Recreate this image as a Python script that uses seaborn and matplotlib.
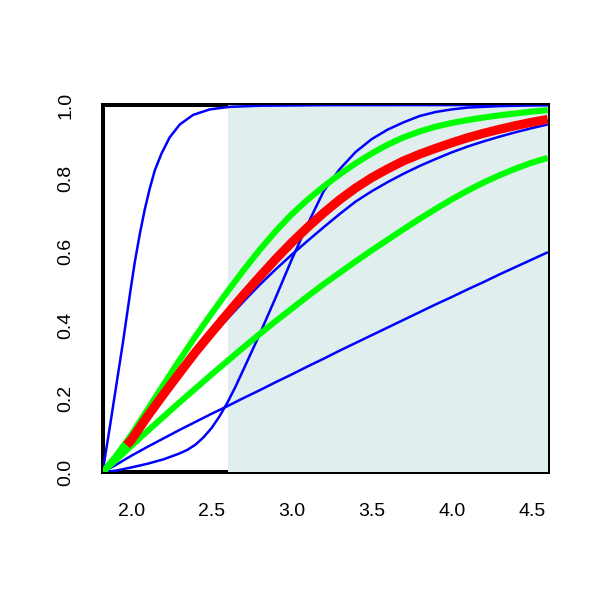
import matplotlib
matplotlib.use("Agg")
import matplotlib.pyplot as plt
from matplotlib.patches import Rectangle
import seaborn as sns

# curves (x positions where values were read)
grid_x = [1.82, 1.9, 2.0, 2.1, 2.2, 2.3, 2.4, 2.5, 2.6, 2.7, 2.8, 2.9, 3.0, 3.1, 3.2,
          3.3, 3.4, 3.5, 3.6, 3.7, 3.8, 3.9, 4.0, 4.1, 4.2, 4.3, 4.4, 4.5, 4.6]

# steep blue curve, read at its own positions
b1_x = [1.82, 1.864, 1.906, 1.948, 1.994, 2.021, 2.052, 2.083, 2.114, 2.146, 2.188,
        2.239, 2.302, 2.385, 2.489, 2.614, 2.8, 3.2, 4.6]
b1_y = [0.0, 0.12, 0.238, 0.356, 0.495, 0.572, 0.648, 0.715, 0.772, 0.822, 0.868,
        0.912, 0.947, 0.973, 0.988, 0.995, 0.998, 0.9995, 1.0]

# s-shaped blue curve, read a little closer where it bends
b2_x = [1.82, 1.9, 2.0, 2.1, 2.2, 2.3, 2.35, 2.4, 2.45, 2.5, 2.55, 2.6, 2.65, 2.7, 2.8,
        2.9, 3.0, 3.1, 3.2, 3.3, 3.4, 3.5, 3.6, 3.7, 3.8, 3.9, 4.0, 4.1, 4.2, 4.3, 4.4,
        4.5, 4.6]
b2_y = [0.0, 0.004, 0.013, 0.023, 0.035, 0.051, 0.061, 0.075, 0.095, 0.12, 0.152, 0.19,
        0.233, 0.28, 0.375, 0.475, 0.578, 0.675, 0.765, 0.825, 0.872, 0.907, 0.933,
        0.953, 0.970, 0.981, 0.988, 0.993, 0.995, 0.997, 0.998, 0.999, 0.9995]

# blue curve running under the red one (starts at 2.0)
b3_y = [None, None, 0.088, 0.152, 0.213, 0.268, 0.32, 0.37, 0.418, 0.465, 0.51, 0.552,
        0.592, 0.63, 0.667, 0.703, 0.737, 0.765, 0.79, 0.813, 0.834, 0.853, 0.871,
        0.887, 0.901, 0.914, 0.926, 0.937, 0.947]

# nearly straight blue curve
b4_y = [0.0, 0.019, 0.045, 0.069, 0.092, 0.115, 0.137, 0.159, 0.18, 0.202, 0.223, 0.245,
        0.266, 0.288, 0.309, 0.331, 0.352, 0.373, 0.394, 0.415, 0.436, 0.457, 0.477,
        0.498, 0.518, 0.539, 0.559, 0.579, 0.599]

# upper and lower green curves
g1_y = [0.0, 0.042, 0.102, 0.17, 0.238, 0.305, 0.37, 0.432, 0.492, 0.55, 0.605, 0.656,
        0.702, 0.742, 0.778, 0.811, 0.841, 0.868, 0.892, 0.912, 0.928, 0.941, 0.951,
        0.959, 0.966, 0.972, 0.977, 0.982, 0.986]
g2_y = [0.0, 0.032, 0.072, 0.112, 0.151, 0.19, 0.228, 0.266, 0.303, 0.34, 0.376, 0.411,
        0.445, 0.479, 0.512, 0.543, 0.574, 0.604, 0.633, 0.662, 0.69, 0.717, 0.743,
        0.767, 0.789, 0.809, 0.827, 0.843, 0.856]

# thick red curve (starts at 1.97)
red_x = [1.97] + grid_x[2:]
red_y = [0.074, 0.088, 0.152, 0.212, 0.27, 0.327, 0.38, 0.432, 0.483, 0.532, 0.58,
         0.625, 0.667, 0.706, 0.742, 0.774, 0.802, 0.826, 0.848, 0.866, 0.882, 0.897,
         0.911, 0.923, 0.934, 0.944, 0.953, 0.961]

shade_from = 2.6
x_ticks = [2.0, 2.5, 3.0, 3.5, 4.0, 4.5]
y_ticks = [0.0, 0.2, 0.4, 0.6, 0.8, 1.0]

sns.set_style("white")
plt.rcParams["font.family"] = ["Liberation Sans", "DejaVu Sans"]

fig, ax = plt.subplots(figsize=(6, 6), dpi=100)
fig.subplots_adjust(left=0.171, right=0.913, bottom=0.213, top=0.825)

ax.set_xlim(1.82, 4.6)
ax.set_ylim(0, 1)

# shaded region sits over the inner half of the frame, like the original
ax.add_patch(Rectangle((shade_from, 0), 4.6 - shade_from, 1.0,
                       facecolor="#E0EEEE", edgecolor="none", zorder=2.6))


def keep(xs, ys):
    pairs = [(x, y) for x, y in zip(xs, ys) if y is not None]
    return [p[0] for p in pairs], [p[1] for p in pairs]


line_kw = dict(ax=ax, sort=False, estimator=None,
               solid_joinstyle="round", solid_capstyle="butt")
blue_curves = [(b1_x, b1_y), (b2_x, b2_y), keep(grid_x, b3_y), keep(grid_x, b4_y)]
for xs, ys in blue_curves:
    sns.lineplot(x=xs, y=ys, color="#0000FF", linewidth=1.8, zorder=3, **line_kw)
for ys in [g1_y, g2_y]:
    sns.lineplot(x=grid_x, y=ys, color="#00FF00", linewidth=4.4, zorder=4, **line_kw)
sns.lineplot(x=red_x, y=red_y, color="#FF0000", linewidth=6.5, zorder=5, **line_kw)

for side in ["left", "right", "top", "bottom"]:
    ax.spines[side].set_visible(True)
    ax.spines[side].set_color("black")
    ax.spines[side].set_linewidth(2.9)

ax.set_xticks(x_ticks)
ax.set_xticklabels([f"{v:.1f}" for v in x_ticks])
ax.set_yticks(y_ticks)
ax.set_yticklabels([f"{v:.1f}" for v in y_ticks], rotation=90, va="center")
ax.tick_params(axis="both", direction="out", length=9.5, width=2.2,
               color="black", labelsize=14, labelcolor="black")
ax.tick_params(axis="x", pad=13)
ax.tick_params(axis="y", pad=11)
ax.set_xlabel("")
ax.set_ylabel("")

fig.savefig("out.png", dpi=100)
